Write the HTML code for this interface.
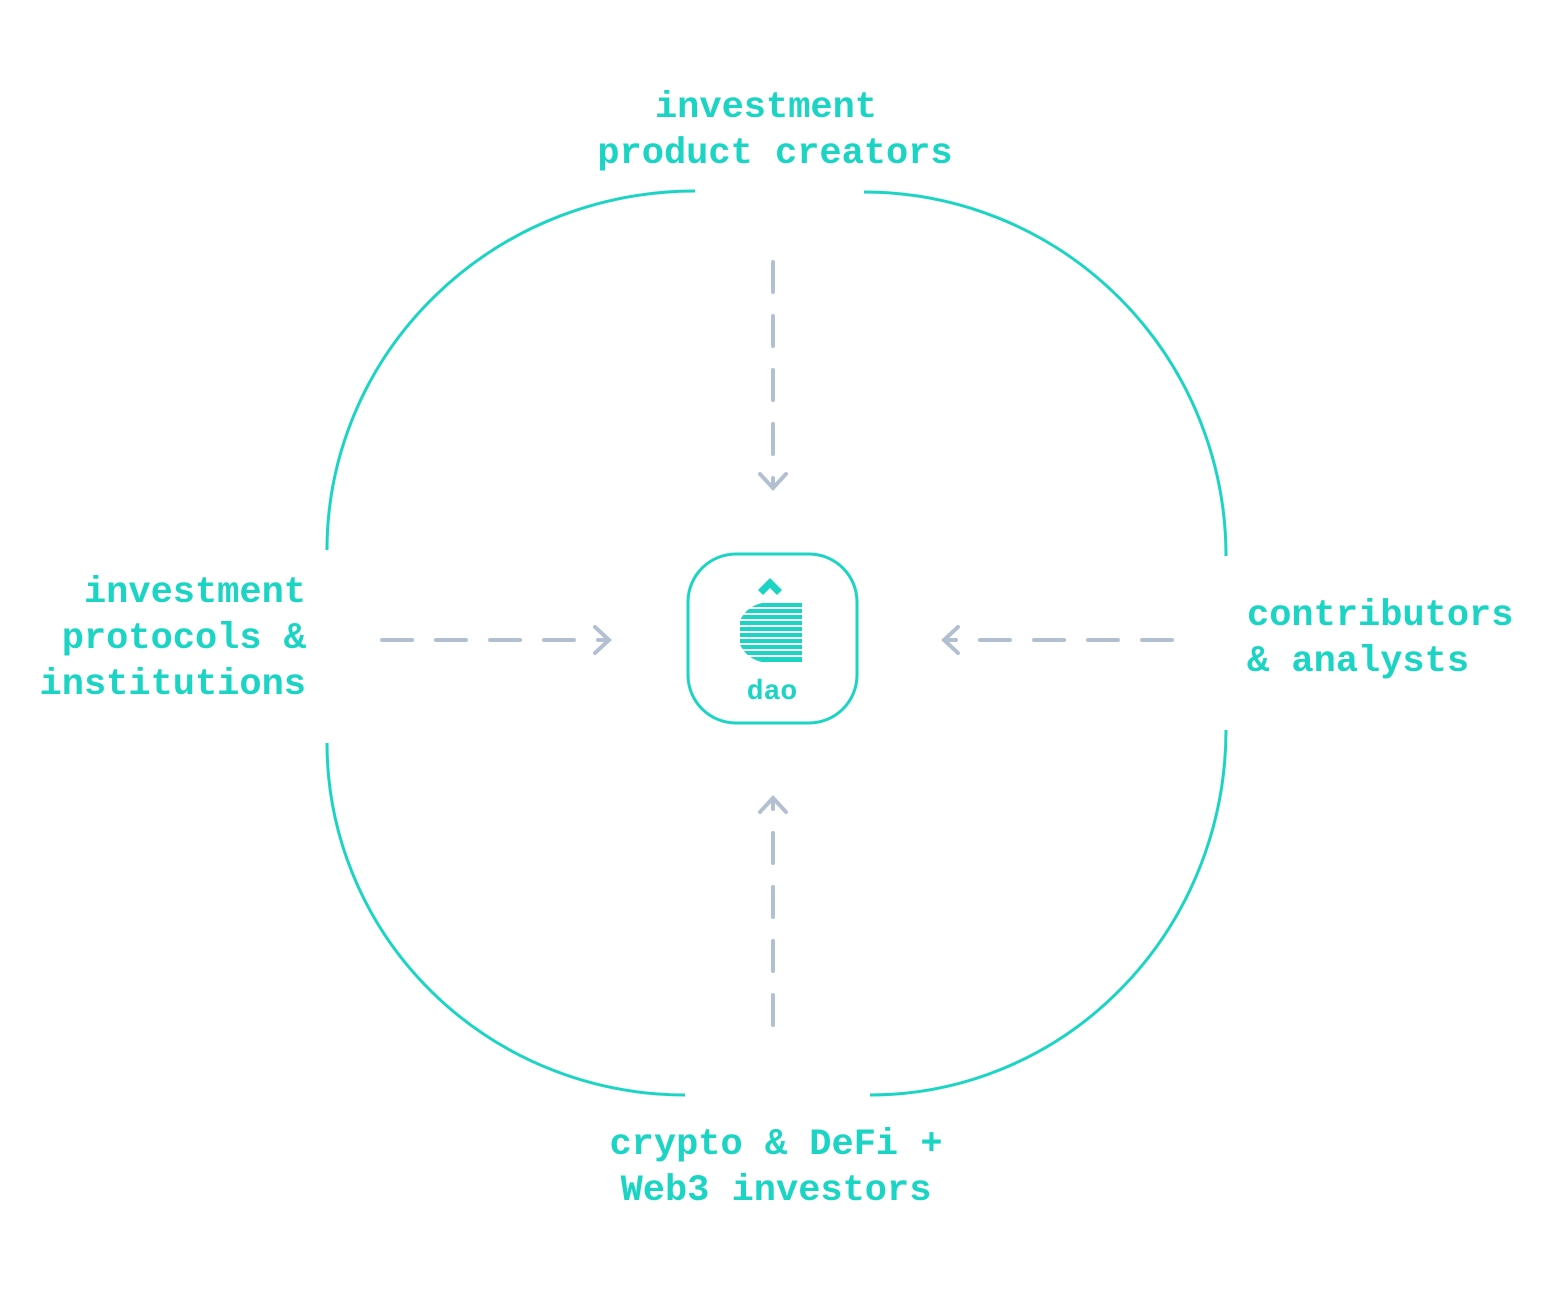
<!DOCTYPE html>
<html><head><style>body{margin:0;background:#fff}</style></head><body>
<svg width="1554" height="1309" viewBox="0 0 1554 1309" xmlns="http://www.w3.org/2000/svg">
<g fill="none" stroke="#1cd4c4" stroke-width="3">
<path d="M327,550 A368,359 0 0 1 695,191"/>
<path d="M864,192 A362,364 0 0 1 1226,556"/>
<path d="M1226,730 A356,365 0 0 1 870,1095"/>
<path d="M685,1095 A358,352 0 0 1 327,743"/>
<rect x="688" y="554" width="169" height="169" rx="48"/>
</g>
<g stroke="#b3c0d2" stroke-width="4" stroke-linecap="round" fill="none">
<path d="M773,262 V486" stroke-dasharray="30,24"/>
<path d="M760,474 L773,488 L786,474"/>
<path d="M773,1025 V800" stroke-dasharray="30,24"/>
<path d="M760,812 L773,798 L786,812"/>
<path d="M382,640 H607" stroke-dasharray="30,24"/>
<path d="M595,627 L609,640 L595,653"/>
<path d="M1172,640 H946" stroke-dasharray="30,24"/>
<path d="M958,627 L944,640 L958,653"/>
</g>
<g fill="#1cd4c4">
<path d="M770,578 L782,590 L777,595 L770,588 L763,595 L758,590 Z"/>
<clipPath id="c"><path d="M773,603 A30,30 0 1 0 773,662 H802 V603 Z"/></clipPath>
<g clip-path="url(#c)">
<rect x="740" y="603" width="62" height="4"/><rect x="740" y="609" width="62" height="4"/>
<rect x="740" y="615" width="62" height="4"/><rect x="740" y="621" width="62" height="4"/>
<rect x="740" y="627" width="62" height="4"/><rect x="740" y="633" width="62" height="4"/>
<rect x="740" y="639" width="62" height="4"/><rect x="740" y="645" width="62" height="4"/>
<rect x="740" y="651" width="62" height="4"/><rect x="740" y="657" width="62" height="5"/>
</g>
</g>
<g fill="#1cd4c4" font-family="Liberation Mono, monospace" font-weight="bold" font-size="37">
<text x="772" y="699" font-size="28" text-anchor="middle">dao</text>
<text x="766" y="117" text-anchor="middle">investment</text>
<text x="775" y="163" text-anchor="middle">product creators</text>
<text x="306" y="602" text-anchor="end">investment</text>
<text x="306" y="648" text-anchor="end">protocols &amp;</text>
<text x="306" y="694" text-anchor="end">institutions</text>
<text x="1247" y="625">contributors</text>
<text x="1247" y="671">&amp; analysts</text>
<text x="776" y="1154" text-anchor="middle">crypto &amp; DeFi +</text>
<text x="776" y="1200" text-anchor="middle">Web3 investors</text>
</g>
</svg>
</body></html>
